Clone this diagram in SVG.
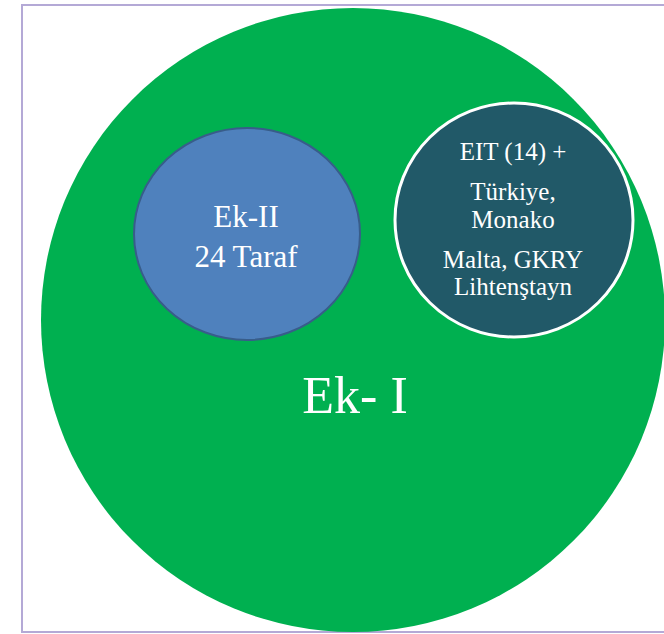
<svg xmlns="http://www.w3.org/2000/svg" width="664" height="634" viewBox="0 0 664 634">
<style>
.t{font-family:"Liberation Serif","Times New Roman",serif;fill:#ffffff;text-anchor:middle}
</style>
<rect x="0" y="0" width="664" height="634" fill="#ffffff"/>
<rect x="22" y="5" width="670" height="627" fill="none" stroke="#b4a9d6" stroke-width="2"/>
<g id="ek1">
<circle cx="353" cy="320" r="312" fill="#00b050"/>
<text class="t" x="355" y="413" font-size="52">Ek- I</text>
</g>
<g id="ek2">
<ellipse cx="247" cy="234" rx="113" ry="106" fill="#4f81bd" stroke="#385d8a" stroke-width="2"/>
<text class="t" x="246" y="227" font-size="31">Ek-II</text>
<text class="t" x="246" y="267" font-size="31">24 Taraf</text>
</g>
<g id="eit">
<ellipse cx="514" cy="220" rx="119" ry="117" fill="#215968" stroke="#ffffff" stroke-width="3"/>
<text class="t" x="513" y="160" font-size="25">EIT (14) +</text>
<text class="t" x="513" y="200" font-size="25">Türkiye,</text>
<text class="t" x="513" y="228" font-size="25">Monako</text>
<text class="t" x="513" y="268" font-size="25">Malta, GKRY</text>
<text class="t" x="513" y="295" font-size="25">Lihtenştayn</text>
</g>
<g id="connectors"></g>
</svg>
